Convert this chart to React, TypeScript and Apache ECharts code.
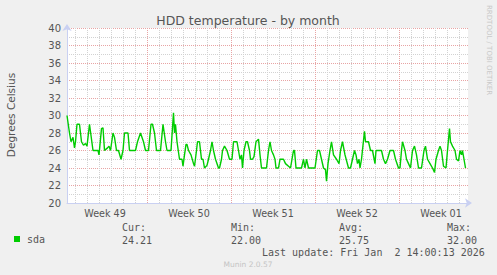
import React, { useEffect, useRef } from "react";
import * as echarts from "echarts";

// hours since the left edge of the plot (about 33 days shown)
const hours = [
  0, 5, 8, 12, 15, 17, 20, 25, 29, 33, 37, 40, 45, 52, 62, 64, 69, 72, 75, 81, 84, 87, 92, 95, 99,
  103, 108, 112, 115, 122, 125, 137, 141, 147, 153, 157, 163, 168, 171, 175, 179, 187, 192, 197,
  200, 208, 213, 215, 217, 220, 225, 230, 232, 235, 238, 240, 243, 248, 253, 255, 259, 261, 265,
  269, 272, 275, 280, 283, 287, 290, 293, 297, 303, 305, 309, 311, 315, 320, 325, 330, 333, 340,
  346, 349, 351, 354, 358, 361, 365, 367, 371, 374, 378, 383, 386, 389, 399, 403, 406, 409, 413,
  416, 418, 423, 426, 433, 437, 443, 447, 453, 455, 458, 469, 473, 476, 479, 483, 496, 501, 505,
  509, 513, 517, 519, 522, 526, 529, 533, 539, 544, 547, 551, 556, 563, 567, 571, 575, 578, 581,
  584, 586, 589, 595, 597, 603, 607, 611, 616, 618, 623, 629, 633, 637, 641, 646, 653, 657, 663,
  666, 669, 671, 676, 679, 683, 687, 691, 695, 699, 703, 709, 714, 717, 721, 726, 731, 735, 738,
  743, 746, 749, 753, 758, 761, 765, 767, 771, 776, 779, 783, 786, 789, 791, 794, 797,
];
const temps = [
  30, 28, 27, 27.5, 26.3, 27, 29, 29, 27, 26.6, 26.8, 26.5, 29, 26, 26, 25.5, 28.5, 28.6, 26, 26.3,
  26.5, 26, 28, 27.5, 26, 26, 25, 26, 28, 28, 26, 26, 27, 28, 27, 26, 26, 29, 29, 28, 26, 26, 29,
  27, 26, 26, 30.3, 28, 29, 27, 25, 25, 24.2, 25.5, 26.7, 26.7, 26, 25.5, 24.5, 24.2, 26, 27, 27,
  25, 25, 24, 24.3, 25, 26, 27, 26, 25, 24, 24, 25, 26, 26.5, 26, 25, 25, 27, 27,
  25, 25.5, 24, 26, 27, 27, 26, 25, 25, 25.3, 27, 27.3, 25.5, 24, 24, 26, 27, 26, 25.5,
  25, 24, 24, 25, 25, 24.5, 24.2, 24, 26, 26, 24, 24, 25, 24, 25, 24, 24, 26, 26,
  25, 24, 23.8, 22.5, 24.5, 26, 27, 25.5, 25, 24.5, 26, 27, 25.5, 24, 24, 25, 26, 25.5, 24.5,
  25, 24, 25, 28.2, 27, 27, 26, 26, 24.5, 26, 26, 26, 25, 24.5, 25, 26, 26, 25, 24,
  24, 26, 27, 26, 25, 24.5, 24, 26, 26.5, 25.5, 24, 24, 26, 26.5, 25, 24.5, 24, 23.5, 25,
  26, 26.5, 26, 24.2, 24, 26, 28.5, 27, 26.5, 26, 25, 24.8, 26, 25.5, 26, 25, 24,
];

const weekLabels = ["Week 49", "Week 50", "Week 51", "Week 52", "Week 01"];
const weekLabelHours = [76, 244, 412, 580, 748];
const weekStartHours = [160, 328, 496, 664];
const dayHours = [
  16, 40, 64, 88, 112, 136, 184, 208, 232, 256, 280, 304, 352, 376, 400, 424, 448, 472, 520, 544,
  568, 592, 616, 640, 688, 712, 736, 760, 784,
];

const statNames = ["Cur:", "Min:", "Avg:", "Max:"];
const statValues = ["24.21", "22.00", "25.75", "32.00"];
const statX = [122, 231, 339, 447];

const MAJOR = "#e8a4a4";
const MINOR = "#d2d2d2";
const AXIS = "#c9d0f2";
const TEXT = "#555555";

export default function App() {
  const ref = useRef<HTMLDivElement>(null);
  useEffect(() => {
    if (!ref.current) return;
    const chart = echarts.init(ref.current, null, { renderer: "svg" });
    const mono = "DejaVu Sans Mono";
    const sans = "DejaVu Sans";
    const statTexts: any[] = [];
    statNames.forEach((n, i) => {
      statTexts.push({
        type: "text",
        x: statX[i],
        y: 227,
        style: { text: n, font: `10px ${mono}`, fill: TEXT, verticalAlign: "middle" },
      });
      statTexts.push({
        type: "text",
        x: statX[i],
        y: 240,
        style: { text: statValues[i], font: `10px ${mono}`, fill: TEXT, verticalAlign: "middle" },
      });
    });
    const markData = [
      ...dayHours.map((h) => ({ xAxis: h, lineStyle: { color: MINOR, type: [1, 1], width: 1 } })),
      ...weekStartHours.map((h) => ({ xAxis: h, lineStyle: { color: MAJOR, type: [1, 1], width: 1 } })),
    ];
    chart.setOption({
      animation: false,
      backgroundColor: "#f0f0f0",
      grid: {
        left: 67,
        top: 28,
        width: 401,
        height: 175,
        show: true,
        backgroundColor: "#ffffff",
        borderWidth: 0,
      },
      legend: {
        left: 14,
        top: 234,
        padding: 0,
        icon: "rect",
        itemWidth: 6,
        itemHeight: 6,
        data: ["sda"],
        textStyle: { fontFamily: mono, fontSize: 10, color: TEXT, padding: [0, 0, 0, 2] },
      },
      xAxis: {
        type: "value",
        min: 0,
        max: 802,
        splitLine: { show: false },
        axisTick: { show: false },
        axisLine: {
          show: true,
          onZero: false,
          lineStyle: { color: AXIS, width: 1 },
          symbol: ["none", "arrow"],
          symbolSize: [7, 7],
          symbolOffset: [0, 4],
        },
        axisLabel: {
          customValues: weekLabelHours,
          formatter: (v: number) => weekLabels[weekLabelHours.indexOf(Math.round(v))] ?? "",
          fontFamily: sans,
          fontSize: 9.6,
          color: TEXT,
          margin: 5,
        },
      },
      yAxis: {
        type: "value",
        min: 20,
        max: 40,
        interval: 2,
        axisLine: {
          show: true,
          lineStyle: { color: AXIS, width: 1 },
          symbol: ["none", "arrow"],
          symbolSize: [7, 7],
          symbolOffset: [0, 4],
        },
        axisTick: { show: false },
        axisLabel: { fontFamily: sans, fontSize: 10, color: TEXT, margin: 6 },
        splitLine: { show: true, lineStyle: { color: MAJOR, type: [1, 1], width: 1 } },
        minorTick: { show: false, splitNumber: 2 },
        minorSplitLine: { show: true, lineStyle: { color: MINOR, type: [1, 1], width: 1 } },
      },
      series: [
        {
          name: "sda",
          type: "line",
          z: 3,
          showSymbol: false,
          symbol: "none",
          data: hours.map((h, i) => [h, temps[i]]),
          lineStyle: { color: "#00cc00", width: 1.4 },
          itemStyle: { color: "#00cc00" },
          markLine: {
            silent: true,
            z: 1,
            symbol: ["none", "none"],
            label: { show: false },
            data: markData,
          },
        },
      ],
      graphic: [
        {
          type: "text",
          x: 248,
          y: 20,
          style: {
            text: "HDD temperature - by month",
            font: `12.5px ${sans}`,
            fill: TEXT,
            align: "center",
            verticalAlign: "middle",
          },
        },
        {
          type: "text",
          x: 11,
          y: 115,
          rotation: Math.PI / 2,
          style: {
            text: "Degrees Celsius",
            font: `10.5px ${sans}`,
            fill: TEXT,
            align: "center",
            verticalAlign: "middle",
          },
        },
        {
          type: "text",
          x: 489,
          y: 5,
          rotation: -Math.PI / 2,
          style: {
            text: "RRDTOOL / TOBI OETIKER",
            font: `7px ${sans}`,
            fill: "#c8c8c8",
            align: "left",
            verticalAlign: "middle",
          },
        },
        ...statTexts,
        {
          type: "text",
          x: 262,
          y: 252,
          style: {
            text: "Last update: Fri Jan  2 14:00:13 2026",
            font: `10px ${mono}`,
            fill: TEXT,
            verticalAlign: "middle",
          },
        },
        {
          type: "text",
          x: 248,
          y: 264,
          style: {
            text: "Munin 2.0.57",
            font: `7.5px ${sans}`,
            fill: "#c4c4c4",
            align: "center",
            verticalAlign: "middle",
          },
        },
      ],
    });
    return () => chart.dispose();
  }, []);
  return (
    <div
      ref={ref}
      style={{ position: "absolute", left: 0, top: 0, width: 497, height: 275 }}
    />
  );
}
